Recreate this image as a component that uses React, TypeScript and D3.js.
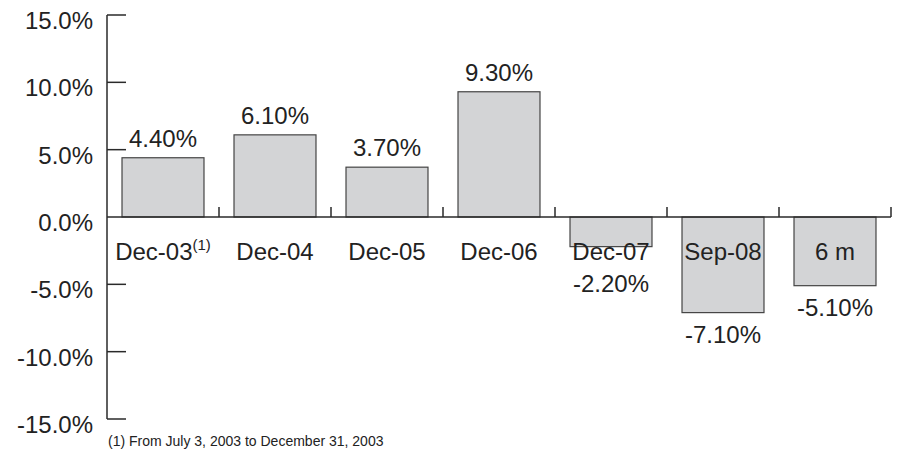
import React from "react";
import * as d3 from "d3";

const categories = ["Dec-03", "Dec-04", "Dec-05", "Dec-06", "Dec-07", "Sep-08", "6 m"];
const values = [4.4, 6.1, 3.7, 9.3, -2.2, -7.1, -5.1];
const valueLabels = ["4.40%", "6.10%", "3.70%", "9.30%", "-2.20%", "-7.10%", "-5.10%"];
const yTicks = [15, 10, 5, 0, -5, -10, -15];
const yTickLabels = ["15.0%", "10.0%", "5.0%", "0.0%", "-5.0%", "-10.0%", "-15.0%"];
const footnote = "(1) From July 3, 2003 to December 31, 2003";

export default function App() {
  const W = 899, H = 451;
  const x0 = 107, x1 = 891;
  const x = d3.scaleBand<string>().domain(categories).range([x0, x1]).paddingInner(0.268).paddingOuter(0.134);
  const xb = d3.scaleBand<string>().domain(categories).range([x0, x1]).padding(0);
  const y = d3.scaleLinear().domain([-15, 15]).range([419, 15]);
  const font = "Liberation Sans, Arial, Helvetica, sans-serif";
  const stroke = "#2a2a2a";
  const txt = "#222";
  const zeroY = y(0);
  const fs = 24;
  return (
    <svg width={W} height={H} style={{ position: "absolute", left: 0, top: 0, background: "#fff" }} fontFamily={font}>
      {categories.map((c, i) => {
        const v = values[i];
        const top = v >= 0 ? y(v) : zeroY;
        const h = Math.abs(y(v) - zeroY);
        return (
          <rect key={c} x={x(c)} y={top} width={x.bandwidth()} height={h} fill="#d3d4d6" stroke="#444" strokeWidth={1.2} />
        );
      })}
      <line x1={x0} x2={x0} y1={y(15)} y2={y(-15)} stroke={stroke} strokeWidth={1.5} />
      {yTicks.filter(t => t !== 0).map(t => (
        <line key={"t" + t} x1={x0} x2={x0 + 19} y1={y(t)} y2={y(t)} stroke={stroke} strokeWidth={1.5} />
      ))}
      {yTicks.map((t, i) => (
        <text key={"l" + t} x={93} y={y(t) + 14} textAnchor="end" fontSize={fs} fill={txt}>
          {yTickLabels[i]}
        </text>
      ))}
      <line x1={x0} x2={x1} y1={zeroY} y2={zeroY} stroke={stroke} strokeWidth={1.5} />
      {categories.map(c => (
        <line key={"b" + c} x1={(xb(c) as number) + xb.bandwidth()} x2={(xb(c) as number) + xb.bandwidth()} y1={zeroY} y2={zeroY - 10} stroke={stroke} strokeWidth={1.5} />
      ))}
      {categories.map((c, i) => {
        const cx = (x(c) as number) + x.bandwidth() / 2;
        return (
          <text key={"c" + c} x={cx} y={260} textAnchor="middle" fontSize={fs} fill={txt}>
            {c}
            {i === 0 ? <tspan fontSize={15} dy={-10}>(1)</tspan> : null}
          </text>
        );
      })}
      {categories.map((c, i) => {
        const v = values[i];
        const cx = (x(c) as number) + x.bandwidth() / 2;
        const ly = v >= 0 ? y(v) - 11 : Math.max(y(v), 262) + 30;
        return (
          <text key={"v" + c} x={cx} y={ly} textAnchor="middle" fontSize={fs} fill={txt}>
            {valueLabels[i]}
          </text>
        );
      })}
      <text x={108} y={446} fontSize={14} fill={txt}>{footnote}</text>
    </svg>
  );
}
